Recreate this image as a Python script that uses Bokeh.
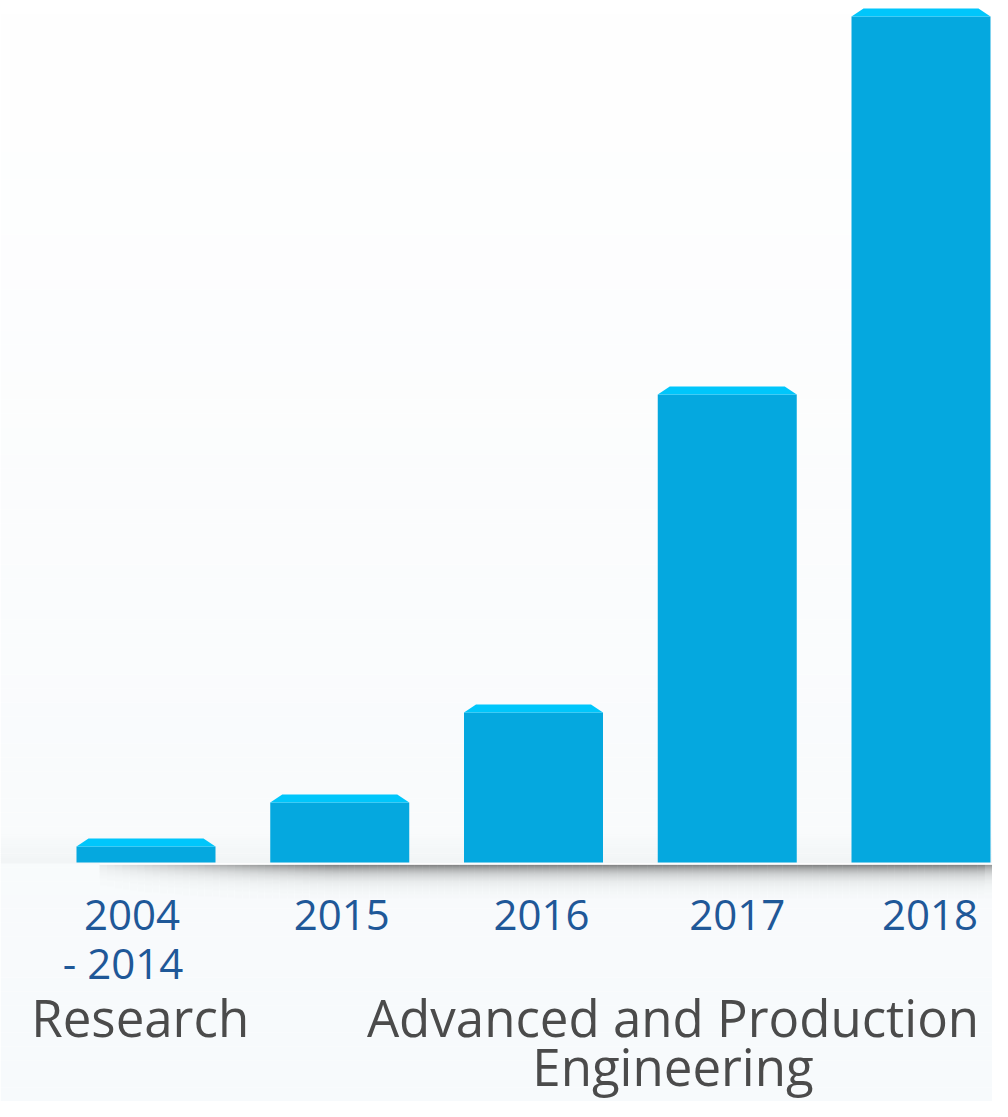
import numpy as np
from bokeh.plotting import figure
from bokeh.models import Range1d, ColumnDataSource
from bokeh.embed import file_html
from bokeh.resources import INLINE
from bokeh.core.properties import value

# ---- data ----
categories = ["2004\n- 2014", "2015", "2016", "2017", "2018"]
values = [17, 61, 151, 469, 847]
groups = ["Research", "Advanced and Production\nEngineering"]
group_centers = [-0.03, 2.72]          # in bar-index units

# ---- style ----
BODY = "#05a8df"
CAP = "#00c6fb"
YEAR_COLOR = "#1f5898"
GROUP_COLOR = "#4b4b4b"
FONT = value("Open Sans")

W, H = 992, 1101
PX = 193.75                      # pixels per bar slot
BASE = 863                       # baseline, px from top
X0 = (0 - 145.5) / PX
X1 = (W - 145.5) / PX
Y0, Y1 = BASE - H, BASE          # y data in pixels relative to baseline
BAR_W = 139 / PX
CAP_H = 8
CAP_INSET = 12 / PX

def rx(px):                       # pixel x -> data x (decoration only)
    return (px - 145.5) / PX

p = figure(width=W, height=H, x_range=Range1d(X0, X1), y_range=Range1d(Y0, Y1),
           output_backend="svg", toolbar_location=None, min_border=0,
           x_axis_type=None, y_axis_type=None,
           background_fill_color="white", border_fill_color="white",
           outline_line_color=None)
p.grid.visible = False

# background vertical gradient (white -> pale blue-grey)
nb = 80
edges = np.linspace(Y0, Y1, nb + 1)
top_c = np.array([255, 255, 255])
bot_c = np.array([247, 250, 252])
cols = []
for k in range(nb):
    t = (edges[k + 1] - Y0) / (Y1 - Y0)
    c = (bot_c * (1 - t) + top_c * t).astype(int)
    cols.append("#%02x%02x%02x" % tuple(c))
p.quad(left=X0, right=X1, bottom=edges[:-1], top=edges[1:], fill_color=cols, line_color=None)

# soft haze around baseline
hz = 16
for k in range(hz):
    p.quad(left=rx(0), right=rx(W), bottom=k * 2, top=k * 2 + 2,
           fill_color="#000000", fill_alpha=0.025 * (1 - k / hz), line_color=None)

# shadow under the baseline
xs_edges = np.linspace(99, W, 120)
ys_rows = 34
sl, sr, sb, st, sa = [], [], [], [], []
for i in range(len(xs_edges) - 1):
    xm = 0.5 * (xs_edges[i] + xs_edges[i + 1])
    if xm < 330:
        g = 0.12 + 0.88 * (xm - 99) / (330 - 99)
    elif xm > 980:
        g = 1 - 0.3 * (xm - 980) / 12
    else:
        g = 1.0
    for j in range(ys_rows):
        d = j + 0.5
        a = 0.6 * np.exp(-d / 8.0) * g
        sl.append(rx(xs_edges[i])); sr.append(rx(xs_edges[i + 1]))
        st.append(-1 - j); sb.append(-2 - j); sa.append(a)
p.quad(left=sl, right=sr, bottom=sb, top=st, fill_color="#000000", fill_alpha=sa, line_color=None)

# white baseline
p.segment(x0=[rx(99)], y0=[-0.5], x1=[rx(W)], y1=[-0.5], line_color="white", line_width=1.5)

# bars
idx = list(range(len(values)))
src = ColumnDataSource(dict(x=idx, top=values))
p.vbar(x="x", top="top", bottom=1, width=BAR_W, fill_color=BODY, line_color=None, source=src)

# caps
cap_xs, cap_ys = [], []
for i, v in zip(idx, values):
    l, r = i - BAR_W / 2, i + BAR_W / 2
    cap_xs.append([l, l + CAP_INSET, r - CAP_INSET, r])
    cap_ys.append([v, v + CAP_H, v + CAP_H, v])
p.patches(xs=cap_xs, ys=cap_ys, fill_color=CAP, line_color=None)

# year labels
line1_dx = [-14, 2, 8, 10, 9]
line2_dx = [-23, 0, 0, 0, 0]
l1x, l1t, l1o, l2x, l2t, l2o = [], [], [], [], [], []
for i, lab in enumerate(categories):
    parts = lab.split("\n")
    l1x.append(i); l1t.append(parts[0]); l1o.append(line1_dx[i])
    if len(parts) > 1:
        l2x.append(i); l2t.append(parts[1]); l2o.append(line2_dx[i])
p.text(x=l1x, y=[-51] * len(l1x), text=l1t, x_offset=l1o, text_font=FONT,
       text_font_size="42px", text_color=YEAR_COLOR, text_align="center",
       text_baseline="alphabetic")
p.text(x=l2x, y=[-99] * len(l2x), text=l2t, x_offset=l2o, text_font=FONT,
       text_font_size="42px", text_color=YEAR_COLOR, text_align="center",
       text_baseline="alphabetic")

# group labels
gx, gy, gt = [], [], []
for c, g in zip(group_centers, groups):
    for k, part in enumerate(g.split("\n")):
        gx.append(c); gy.append(-153 - 49 * k); gt.append(part)
p.text(x=gx, y=gy, text=gt, text_font=FONT, text_font_size="51px",
       text_color=GROUP_COLOR, text_align="center", text_baseline="alphabetic")

open("out.html", "w").write(file_html(p, INLINE))
